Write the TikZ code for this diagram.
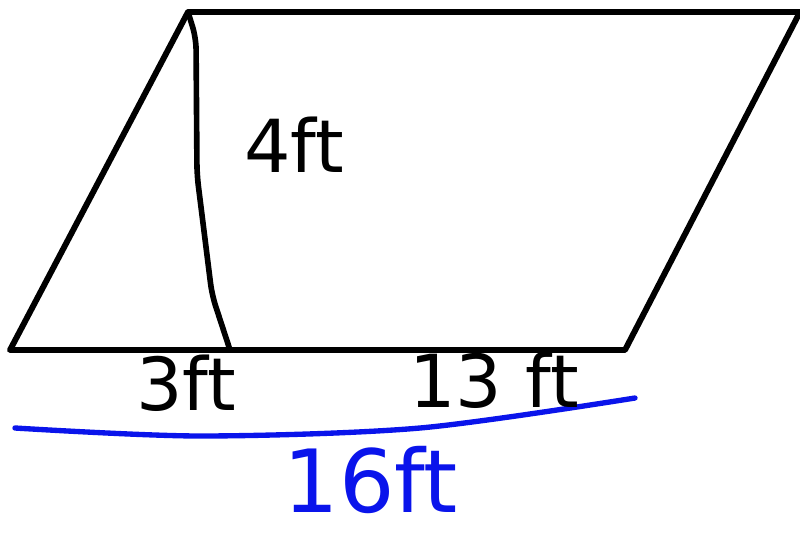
\documentclass[tikz,border=0pt]{standalone}
\usepackage{fontspec}
\setmainfont{DejaVu Sans}
\usetikzlibrary{positioning,calc}
\definecolor{penblue}{RGB}{10,20,235}
\tikzset{
  edge/.style={line width=4.2pt, line join=round, line cap=round, draw=black},
  hline/.style={line width=4pt, line cap=round, line join=round, draw=black, rounded corners=8pt},
  baseline16/.style={line width=3.8pt, line cap=round, draw=penblue},
  lbl/.style={font=\fontsize{52}{52}\selectfont, inner sep=0pt},
  lblblue/.style={font=\fontsize{62}{62}\selectfont, text=penblue, inner sep=0pt},
}
\begin{document}
\begin{tikzpicture}[x=0.025cm, y=-0.025cm]
  \useasboundingbox (0,0) rectangle (800,532);
  % corners of the parallelogram
  \coordinate (bl) at (10,350);
  \coordinate (tl) at (188,12);
  \coordinate (tr) at (800,12);
  \coordinate (br) at (625,350);
  \coordinate (foot) at (230,350);
  \draw[edge] (bl) -- (tl) -- (tr) -- (br) -- cycle;
  % height
  \draw[hline] (tl) -- (196,38) -- (197,175) -- (207,255) -- (212,295) -- (foot);
  % total base
  \coordinate (bstart) at (15,428);
  \coordinate (bend) at (635,398);
  \draw[baseline16] plot[smooth] coordinates {(bstart) (200,436) (420,428) (bend)};
  % labels
  \node[lbl] (h) at (294,145) {4ft};
  \node[lbl] (a) at (186,383) {3ft};
  \node[lbl] (b) at (494,380) {13 ft};
  \node[lblblue] (c) at (371,480) {16ft};
\end{tikzpicture}
\end{document}
